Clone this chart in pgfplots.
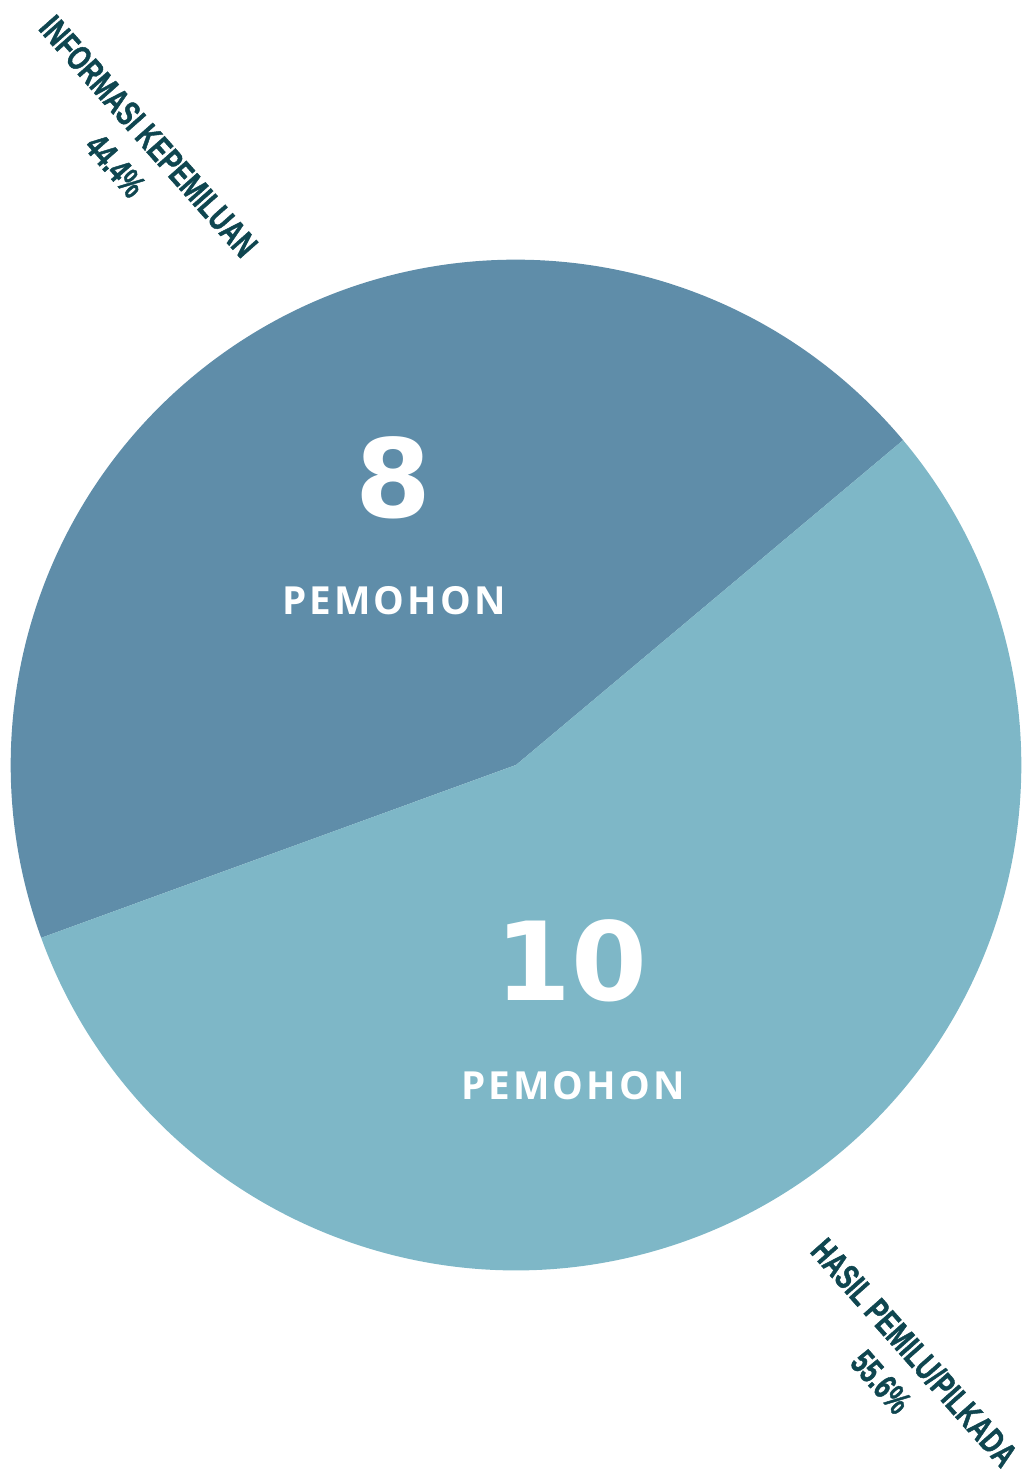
\documentclass[border=0pt]{standalone}
\usepackage{pgfplots}
\pgfplotsset{compat=1.18}
\usepackage{fontspec}
\setmainfont{Liberation Sans}
\newfontfamily\numfont{DejaVu Sans}
\newfontfamily\pemfont{Open Sans}[LetterSpace=8]
\newfontfamily\labfont{Liberation Sans}[FakeStretch=0.70, FakeBold=1.2]
\definecolor{sliceA}{HTML}{5F8DA9}
\definecolor{sliceB}{HTML}{7EB7C7}
\definecolor{labtxt}{HTML}{0F4650}
% values
\def\valA{8}
\def\valB{10}
\begin{document}
\begin{tikzpicture}
\begin{axis}[
  x=0.01cm, y=0.01cm,
  xmin=0, xmax=1024, ymin=0, ymax=1478,
  hide axis, clip=false,
]
\pgfmathsetmacro{\tot}{\valA+\valB}
\pgfmathsetmacro{\angA}{\valA/\tot*360}
\pgfmathsetmacro{\st}{40}
\pgfmathsetmacro{\enA}{\st+\angA}
\pgfmathsetmacro{\enB}{\st+360}
\fill[sliceA] (axis cs:516,713) -- ++(\st:5.05cm) arc[start angle=\st, end angle=\enA, radius=5.05cm] -- cycle;
\fill[sliceB] (axis cs:516,713) -- ++(\enA:5.05cm) arc[start angle=\enA, end angle=\enB, radius=5.05cm] -- cycle;
\node[white, font=\numfont\bfseries\fontsize{31}{31}\selectfont] at (axis cs:393,1000) {8};
\node[white, font=\pemfont\bfseries\fontsize{11}{11}\selectfont] at (axis cs:394,877) {PEMOHON};
\node[white, font=\numfont\bfseries\fontsize{31}{31}\selectfont] at (axis cs:571,517) {10};
\node[white, font=\pemfont\bfseries\fontsize{11}{11}\selectfont] at (axis cs:573,392) {PEMOHON};
\node[labtxt, rotate=-48.5, align=center, inner sep=0pt, font=\labfont\bfseries\fontsize{10}{12.6}\selectfont] at (axis cs:132,1327) {INFORMASI KEPEMILUAN\\44.4\%};
\node[labtxt, rotate=-48.5, align=center, inner sep=0pt, font=\labfont\bfseries\fontsize{10}{12.6}\selectfont] at (axis cs:898,111) {HASIL PEMILU/PILKADA\\55.6\%};
\end{axis}
\pgfresetboundingbox
\path (current axis.south west) rectangle (current axis.north east);
\end{tikzpicture}
\end{document}
